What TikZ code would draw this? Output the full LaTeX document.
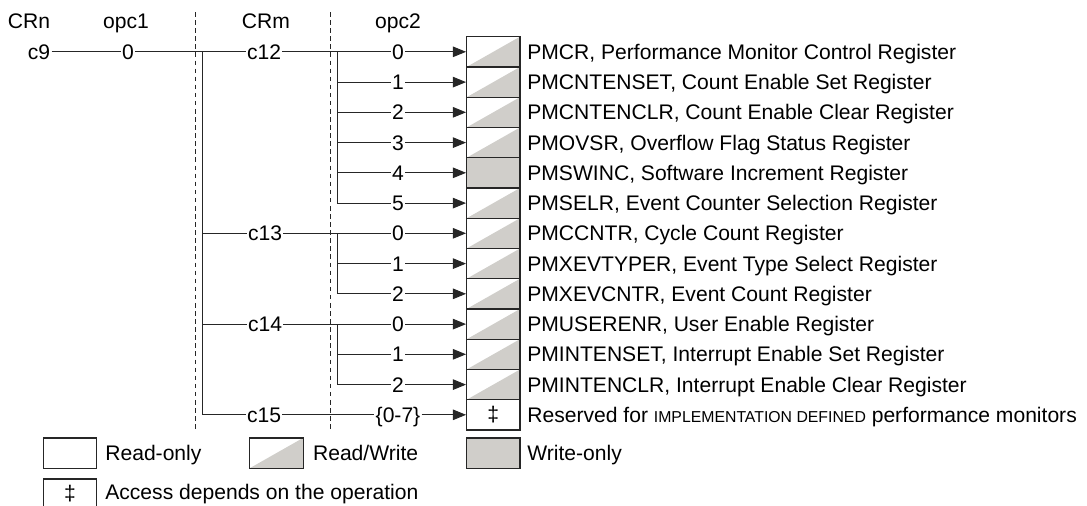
\documentclass[tikz,border=0pt]{standalone}
\usepackage{fontspec}
\setmainfont{Liberation Sans}
\usepackage{xcolor}
\usetikzlibrary{arrows.meta,positioning}
\definecolor{regrey}{HTML}{D0CECA}
\tikzset{
  lbl/.style={inner sep=0.6pt,text height=8.6pt,text depth=0pt,font=\fontsize{12}{14}\selectfont},
  txt/.style={anchor=west,inner sep=0pt,text height=8.6pt,text depth=0pt,font=\fontsize{12}{14}\selectfont},
  regbox/.style={draw=black!85,line width=0.7pt,minimum width=1.066cm,minimum height=0.605cm,inner sep=0pt,font=\fontsize{12}{14}\selectfont},
  rwbox/.style={regbox,path picture={\fill[regrey] (path picture bounding box.south west) -- (path picture bounding box.north east) -- (path picture bounding box.south east) -- cycle;}},
  wobox/.style={regbox,fill=regrey},
  wire/.style={line width=0.55pt,black!85},
  arr/.style={wire,-{Triangle[length=7.5pt,width=6pt]}},
  sepline/.style={line width=0.45pt,dash pattern=on 2.6pt off 2pt,black!85},
}
\newcommand{\impdef}{{\fontsize{9}{10}\selectfont IMPLEMENTATION DEFINED}}

\begin{document}
\begin{tikzpicture}[x=0.02cm,y=-0.02cm]
  \useasboundingbox (0,0) rectangle (1087,505);
  % headings and field separators
  \node[lbl] (hCRn) at (29,21) {CRn};
  \node[lbl] (hOpc1) at (126,21) {opc1};
  \node[lbl] (hCRm) at (266,21) {CRm};
  \node[lbl] (hOpc2) at (398,21) {opc2};
  \coordinate (s1t) at (195,12);
  \coordinate (s1b) at (195,431);
  \coordinate (s2t) at (330.7,12);
  \coordinate (s2b) at (330.7,431);
  \draw[sepline] (s1t) -- (s1b);
  \draw[sepline] (s2t) -- (s2b);
  % CRn, opc1, CRm
  \node[lbl] (c9) at (39,51.8) {c9};
  \node[lbl] (o1) at (128,51.8) {0};
  \node[lbl] (c12) at (264,51.8) {c12};
  \node[lbl] (c13) at (265,233.3) {c13};
  \node[lbl] (c14) at (265,324.1) {c14};
  \node[lbl] (c15) at (264,414.8) {c15};
  \coordinate (jCRm) at (202,51.8);
  \draw[wire] (c9) -- (o1);
  \draw[wire] (o1) -- (c12);
  \draw[wire] (jCRm) |- (c15);
  \draw[wire] (jCRm |- c13) -- (c13);
  \draw[wire] (jCRm |- c14) -- (c14);
  % opc2
  \node[lbl] (a0) at (398,51.8) {0};
  \node[lbl] (a1) at (398,82.1) {1};
  \node[lbl] (a2) at (398,112.3) {2};
  \node[lbl] (a3) at (398,142.6) {3};
  \node[lbl] (a4) at (398,172.8) {4};
  \node[lbl] (a5) at (398,203.1) {5};
  \node[lbl] (b0) at (398,233.3) {0};
  \node[lbl] (b1) at (398,263.6) {1};
  \node[lbl] (b2) at (398,293.8) {2};
  \node[lbl] (d0) at (398,324.1) {0};
  \node[lbl] (d1) at (398,354.3) {1};
  \node[lbl] (d2) at (398,384.6) {2};
  \node[lbl] (e0) at (398,414.8) {\{0-7\}};
  \coordinate (k12) at (337.7,51.8);
  \coordinate (k13) at (337.7,233.3);
  \coordinate (k14) at (337.7,324.1);
  \draw[wire] (c12) -- (a0);
  \draw[wire] (k12) |- (a5);
  \draw[wire] (k12 |- a1) -- (a1);
  \draw[wire] (k12 |- a2) -- (a2);
  \draw[wire] (k12 |- a3) -- (a3);
  \draw[wire] (k12 |- a4) -- (a4);
  \draw[wire] (c13) -- (b0);
  \draw[wire] (k13) |- (b2);
  \draw[wire] (k13 |- b1) -- (b1);
  \draw[wire] (c14) -- (d0);
  \draw[wire] (k14) |- (d2);
  \draw[wire] (k14 |- d1) -- (d1);
  \draw[wire] (c15) -- (e0);
  % registers
  \node[rwbox] (rPMCR) at (493.3,51.8) {};
  \node[rwbox] (rCNTENS) at (493.3,82.1) {};
  \node[rwbox] (rCNTENC) at (493.3,112.3) {};
  \node[rwbox] (rOVSR) at (493.3,142.6) {};
  \node[wobox] (rSWINC) at (493.3,172.8) {};
  \node[rwbox] (rSELR) at (493.3,203.1) {};
  \node[rwbox] (rCCNTR) at (493.3,233.3) {};
  \node[rwbox] (rXEVTYP) at (493.3,263.6) {};
  \node[rwbox] (rXEVCNT) at (493.3,293.8) {};
  \node[rwbox] (rUSEREN) at (493.3,324.1) {};
  \node[rwbox] (rINTENS) at (493.3,354.3) {};
  \node[rwbox] (rINTENC) at (493.3,384.6) {};
  \node[regbox] (rIMPDEF) at (493.3,414.8) {‡};
  \draw[arr] (a0) -- (rPMCR);
  \draw[arr] (a1) -- (rCNTENS);
  \draw[arr] (a2) -- (rCNTENC);
  \draw[arr] (a3) -- (rOVSR);
  \draw[arr] (a4) -- (rSWINC);
  \draw[arr] (a5) -- (rSELR);
  \draw[arr] (b0) -- (rCCNTR);
  \draw[arr] (b1) -- (rXEVTYP);
  \draw[arr] (b2) -- (rXEVCNT);
  \draw[arr] (d0) -- (rUSEREN);
  \draw[arr] (d1) -- (rINTENS);
  \draw[arr] (d2) -- (rINTENC);
  \draw[arr] (e0) -- (rIMPDEF);
  \node[txt] (tPMCR) at (527,51.8) {PMCR, Performance Monitor Control Register};
  \node[txt] (tCNTENS) at (527,82.1) {PMCNTENSET, Count Enable Set Register};
  \node[txt] (tCNTENC) at (527,112.3) {PMCNTENCLR, Count Enable Clear Register};
  \node[txt] (tOVSR) at (527,142.6) {PMOVSR, Overflow Flag Status Register};
  \node[txt] (tSWINC) at (527,172.8) {PMSWINC, Software Increment Register};
  \node[txt] (tSELR) at (527,203.1) {PMSELR, Event Counter Selection Register};
  \node[txt] (tCCNTR) at (527,233.3) {PMCCNTR, Cycle Count Register};
  \node[txt] (tXEVTYP) at (527,263.6) {PMXEVTYPER, Event Type Select Register};
  \node[txt] (tXEVCNT) at (527,293.8) {PMXEVCNTR, Event Count Register};
  \node[txt] (tUSEREN) at (527,324.1) {PMUSERENR, User Enable Register};
  \node[txt] (tINTENS) at (527,354.3) {PMINTENSET, Interrupt Enable Set Register};
  \node[txt] (tINTENC) at (527,384.6) {PMINTENCLR, Interrupt Enable Clear Register};
  \node[txt] (tIMPDEF) at (527,414.8) {Reserved for \impdef{} performance monitors};
  % key
  \node[regbox] (kRO) at (70,453) {};
  \node[txt] (lRO) at (105,453) {Read-only};
  \node[rwbox] (kRW) at (276.5,453) {};
  \node[txt] (lRW) at (312.7,453) {Read/Write};
  \node[wobox] (kWO) at (493.3,453) {};
  \node[txt] (lWO) at (527,453) {Write-only};
  \node[regbox] (kAC) at (70,494) {‡};
  \node[txt] (lAC) at (105,492) {Access depends on the operation};
\end{tikzpicture}
\end{document}
